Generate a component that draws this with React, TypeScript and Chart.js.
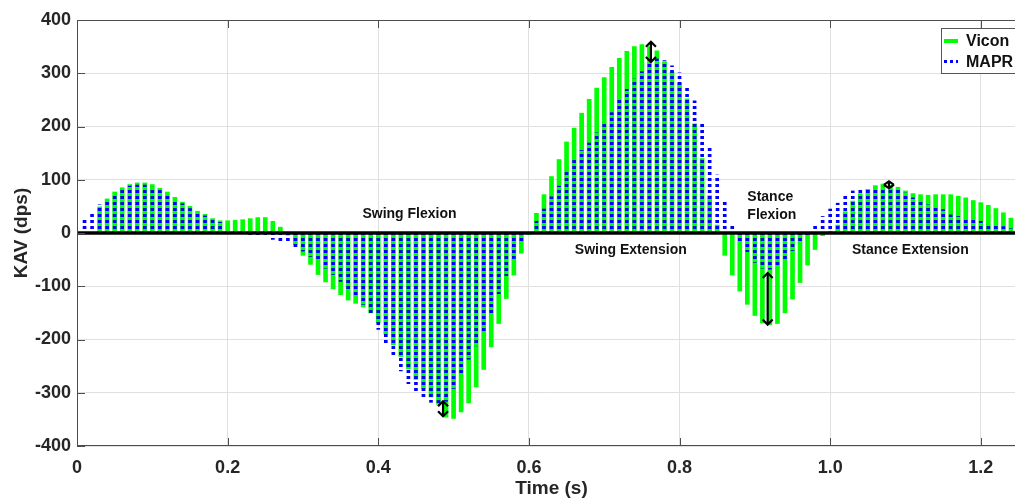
import { useEffect, useRef } from 'react';
import { Chart, registerables } from 'chart.js';

Chart.register(...registerables);

// Sample times (s)
const times = [
  0.01, 0.02, 0.03, 0.04, 0.05, 0.06, 0.07, 0.08, 0.09, 0.10,
  0.11, 0.12, 0.13, 0.14, 0.15, 0.16, 0.17, 0.18, 0.19, 0.20,
  0.21, 0.22, 0.23, 0.24, 0.25, 0.26, 0.27, 0.28, 0.29, 0.30,
  0.31, 0.32, 0.33, 0.34, 0.35, 0.36, 0.37, 0.38, 0.39, 0.40,
  0.41, 0.42, 0.43, 0.44, 0.45, 0.46, 0.47, 0.48, 0.49, 0.50,
  0.51, 0.52, 0.53, 0.54, 0.55, 0.56, 0.57, 0.58, 0.59, 0.60,
  0.61, 0.62, 0.63, 0.64, 0.65, 0.66, 0.67, 0.68, 0.69, 0.70,
  0.71, 0.72, 0.73, 0.74, 0.75, 0.76, 0.77, 0.78, 0.79, 0.80,
  0.81, 0.82, 0.83, 0.84, 0.85, 0.86, 0.87, 0.88, 0.89, 0.90,
  0.91, 0.92, 0.93, 0.94, 0.95, 0.96, 0.97, 0.98, 0.99, 1.00,
  1.01, 1.02, 1.03, 1.04, 1.05, 1.06, 1.07, 1.08, 1.09, 1.10,
  1.11, 1.12, 1.13, 1.14, 1.15, 1.16, 1.17, 1.18, 1.19, 1.20,
  1.21, 1.22, 1.23, 1.24, 1.25,
];

// Knee angular velocity (dps), optical reference system
const vicon = [
  null, null, 49, 64, 77, 85, 91, 94, 94, 91,
  84, 77, 67, 58, 50, 41, 35, 27, 23, 23,
  24, 25, 27, 29, 29, 22, 11, -4, -22, -42,
  -59, -78, -92, -105, -116, -126, -132, -139, -150, -168,
  -190, -210, -232, -255, -275, -293, -308, -322, -346, -348,
  -336, -319, -289, -256, -214, -170, -123, -79, -38, -3,
  37, 72, 106, 138, 171, 197, 225, 251, 272, 292,
  311, 328, 341, 350, 354, 350, 342, 322, 302, 282,
  252, 205, 140, 70, 15, -42, -79, -109, -134, -155,
  -169, -172, -170, -150, -124, -93, -60, -31, -5, 3,
  15, 40, 60, 74, 82, 89, 92, 90, 86, 79,
  74, 72, 71, 72, 72, 72, 69, 66, 61, 57,
  52, 46, 38, 28, 18,
];

// Knee angular velocity (dps), MAPR estimate
const mapr = [
  27, 39, 53, 62, 74, 82, 88, 90, 90, 86,
  80, 72, 63, 55, 46, 38, 32, 25, 20, 3,
  1, null, -3, -5, -7, -12, -16, -20, -27, -34,
  -44, -53, -66, -78, -91, -105, -119, -134, -154, -181,
  -207, -233, -259, -283, -299, -310, -318, -322, -316, -292,
  -264, -237, -212, -184, -152, -114, -80, -48, -18, 5,
  22, 45, 68, 88, 118, 142, 155, 169, 188, 206,
  226, 250, 270, 289, 303, 320, 327, 324, 314, 301,
  275, 248, 207, 159, 109, 58, 17, -18, -35, -55,
  -66, -68, -64, -50, -33, -17, -4, 16, 31, 45,
  56, 71, 79, 84, 84, 84, 86, 84, 81, 75,
  66, 58, 53, 49, 44, 34, 31, 28, 28, 22,
  17, 16, 12, 8, 5,
];

const xTickValues = [0, 0.2, 0.4, 0.6, 0.8, 1.0, 1.2];
const xTickLabels = ['0', '0.2', '0.4', '0.6', '0.8', '1.0', '1.2'];
const yTickValues = [-400, -300, -200, -100, 0, 100, 200, 300, 400];
const yTickLabels = ['-400', '-300', '-200', '-100', '0', '100', '200', '300', '400'];

// Gait phase labels (anchored at their left edge, vertically centred)
const phaseLabels = ['Swing Flexion', 'Swing Extension', 'Stance\nFlexion', 'Stance Extension'];
const phaseTimes = [0.379, 0.661, 0.890, 1.029];
const phaseValues = [36, -33, 51, -33];

// Peak-difference markers (double-headed arrows)
const arrowTimes = [0.762, 0.486, 0.917, 1.078];
const arrowTops = [359, -316, -75, 97];
const arrowBottoms = [321, -344, -172, 84];

const seriesNames = ['Vicon', 'MAPR'];
const viconColor = '#00ff00';
const maprColor = '#0000ff';

const FONT = "'Liberation Sans', Arial, Helvetica, sans-serif";
const TEXT = '#262626';

function toPoints(vals: (number | null)[]) {
  const pts: { x: number; y: number }[] = [];
  vals.forEach((v, i) => {
    if (v !== null) pts.push({ x: times[i], y: v });
  });
  return pts;
}

function makeDotPattern(): CanvasPattern | string {
  const c = document.createElement('canvas');
  c.width = 1;
  c.height = 6;
  const g = c.getContext('2d');
  if (!g) return maprColor;
  g.fillStyle = maprColor;
  g.fillRect(0, 0, 1, 3);
  const p = g.createPattern(c, 'repeat');
  return p || maprColor;
}

export default function App() {
  const ref = useRef<HTMLCanvasElement | null>(null);

  useEffect(() => {
    const canvas = ref.current;
    if (!canvas) return;
    const dots = makeDotPattern();

    const overlay = {
      id: 'overlay',
      beforeDatasetsDraw(chart: any) {
        const y0 = chart.scales.y.getPixelForValue(0);
        if (typeof dots !== 'string' && (dots as any).setTransform) {
          (dots as any).setTransform(new DOMMatrix([1, 0, 0, 1, 0, Math.round(y0) - 1]));
        }
      },
      afterDatasetsDraw(chart: any) {
        const { ctx, chartArea: a, scales } = chart;
        const xs = scales.x;
        const ys = scales.y;
        ctx.save();

        // zero line
        const y0 = ys.getPixelForValue(0);
        ctx.strokeStyle = '#000';
        ctx.lineWidth = 3.5;
        ctx.beginPath();
        ctx.moveTo(a.left, y0);
        ctx.lineTo(a.right, y0);
        ctx.stroke();

        // axes box and inward ticks
        ctx.strokeStyle = '#4d4d4d';
        ctx.lineWidth = 1;
        ctx.strokeRect(Math.round(a.left) + 0.5, Math.round(a.top) + 0.5,
          Math.round(a.right - a.left) - 1, Math.round(a.bottom - a.top) - 1);
        ctx.beginPath();
        xTickValues.forEach((v) => {
          const px = Math.round(xs.getPixelForValue(v)) + 0.5;
          ctx.moveTo(px, a.bottom);
          ctx.lineTo(px, a.bottom - 8);
          ctx.moveTo(px, a.top);
          ctx.lineTo(px, a.top + 8);
        });
        yTickValues.forEach((v) => {
          const py = Math.round(ys.getPixelForValue(v)) + 0.5;
          ctx.moveTo(a.left, py);
          ctx.lineTo(a.left + 8, py);
          ctx.moveTo(a.right, py);
          ctx.lineTo(a.right - 8, py);
        });
        ctx.stroke();

        // double-headed arrows
        ctx.strokeStyle = '#000';
        ctx.lineWidth = 2.2;
        ctx.lineJoin = 'miter';
        arrowTimes.forEach((t, i) => {
          const px = xs.getPixelForValue(t);
          const yt = ys.getPixelForValue(arrowTops[i]);
          const yb = ys.getPixelForValue(arrowBottoms[i]);
          const head = Math.min(5, (yb - yt) / 2);
          ctx.beginPath();
          ctx.moveTo(px, yt + 1);
          ctx.lineTo(px, yb - 1);
          ctx.stroke();
          ctx.beginPath();
          ctx.moveTo(px - 5, yt + head);
          ctx.lineTo(px, yt);
          ctx.lineTo(px + 5, yt + head);
          ctx.moveTo(px - 5, yb - head);
          ctx.lineTo(px, yb);
          ctx.lineTo(px + 5, yb - head);
          ctx.stroke();
        });

        // phase labels
        ctx.fillStyle = '#111';
        ctx.font = `bold 14px ${FONT}`;
        ctx.textAlign = 'left';
        ctx.textBaseline = 'middle';
        phaseLabels.forEach((txt, i) => {
          const lines = txt.split('\n');
          const px = xs.getPixelForValue(phaseTimes[i]);
          const pyc = ys.getPixelForValue(phaseValues[i]);
          const lh = 18;
          lines.forEach((ln, j) => {
            ctx.fillText(ln, px, pyc + (j - (lines.length - 1) / 2) * lh);
          });
        });

        // legend box (top-right inside the axes)
        const bx = a.right - 85;
        const by = a.top + 8;
        const bw = 79;
        const bh = 45;
        ctx.fillStyle = '#fff';
        ctx.fillRect(bx, by, bw, bh);
        ctx.strokeStyle = '#555';
        ctx.lineWidth = 1;
        ctx.strokeRect(Math.round(bx) + 0.5, Math.round(by) + 0.5, bw, bh);
        const ly1 = by + 13;
        const ly2 = by + 33.5;
        ctx.strokeStyle = viconColor;
        ctx.lineWidth = 4;
        ctx.beginPath();
        ctx.moveTo(bx + 3, ly1);
        ctx.lineTo(bx + 17, ly1);
        ctx.stroke();
        ctx.strokeStyle = maprColor;
        ctx.lineWidth = 3;
        ctx.setLineDash([3, 3]);
        ctx.beginPath();
        ctx.moveTo(bx + 3, ly2);
        ctx.lineTo(bx + 17, ly2);
        ctx.stroke();
        ctx.setLineDash([]);
        ctx.fillStyle = '#111';
        ctx.font = `bold 16px ${FONT}`;
        ctx.fillText(seriesNames[0], bx + 25, ly1 + 1);
        ctx.fillText(seriesNames[1], bx + 25, ly2 + 1);

        ctx.restore();
      },
    };

    const chart = new Chart(canvas, {
      type: 'bar',
      data: {
        datasets: [
          {
            label: seriesNames[1],
            data: toPoints(mapr) as any,
            backgroundColor: dots as any,
            borderWidth: 0,
            barThickness: 3,
            grouped: false,
            order: 0,
          },
          {
            label: seriesNames[0],
            data: toPoints(vicon) as any,
            backgroundColor: viconColor,
            borderWidth: 0,
            barThickness: 4,
            grouped: false,
            order: 1,
          },
        ],
      },
      options: {
        responsive: false,
        animation: false,
        devicePixelRatio: 1,
        events: [],
        layout: { padding: { top: 20, left: 0, right: 0, bottom: 0 } },
        plugins: {
          legend: { display: false },
          tooltip: { enabled: false },
          title: { display: false },
        },
        scales: {
          x: {
            type: 'linear',
            min: 0,
            max: 1.26,
            offset: false,
            afterFit: (s: any) => { s.height = 54; },
            afterBuildTicks: (s: any) => { s.ticks = xTickValues.map((v) => ({ value: v })); },
            grid: { color: '#e0e0e0', lineWidth: 1, drawTicks: false, offset: false },
            border: { display: false },
            ticks: {
              autoSkip: false,
              maxRotation: 0,
              padding: 11,
              color: TEXT,
              font: { family: FONT, size: 18, weight: 'bold' },
              callback: (v: any) => {
                const i = xTickValues.findIndex((t) => Math.abs(t - Number(v)) < 1e-6);
                return i >= 0 ? xTickLabels[i] : '';
              },
            },
            title: {
              display: true,
              text: 'Time (s)',
              color: TEXT,
              padding: { top: 0, bottom: 0 },
              font: { family: FONT, size: 19, weight: 'bold' },
            },
          },
          y: {
            min: -400,
            max: 400,
            afterFit: (s: any) => { s.width = 77; },
            afterBuildTicks: (s: any) => { s.ticks = yTickValues.map((v) => ({ value: v })); },
            grid: { color: '#e0e0e0', lineWidth: 1, drawTicks: false },
            border: { display: false },
            ticks: {
              padding: 6,
              color: TEXT,
              font: { family: FONT, size: 18, weight: 'bold' },
              callback: (v: any) => {
                const i = yTickValues.indexOf(Number(v));
                return i >= 0 ? yTickLabels[i] : '';
              },
            },
            title: {
              display: true,
              text: 'KAV (dps)',
              color: TEXT,
              padding: { top: 10, bottom: 0 },
              font: { family: FONT, size: 19, weight: 'bold' },
            },
          },
        },
      },
      plugins: [overlay],
    } as any);

    return () => chart.destroy();
  }, []);

  return (
    <div
      style={{
        position: 'fixed',
        left: 0,
        top: 0,
        width: 1015,
        height: 500,
        overflow: 'hidden',
        background: '#fff',
      }}
    >
      <canvas ref={ref} width={1026} height={500} style={{ display: 'block' }} />
    </div>
  );
}
